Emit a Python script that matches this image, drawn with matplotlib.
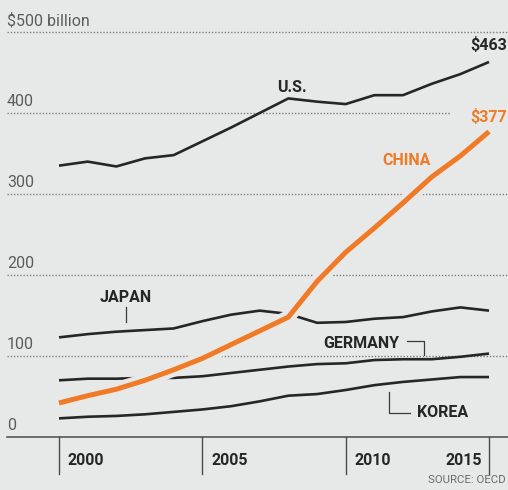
import matplotlib
matplotlib.use("Agg")
import matplotlib.pyplot as plt
import matplotlib.patheffects as pe

# R&D spending, billions of dollars
years = list(range(2000, 2016))
us = [335, 340, 334, 344, 348, 365, 382, 400, 418, 414, 411, 422, 422, 436, 448, 463]
china = [42, 51, 59, 70, 83, 97, 114, 131, 148, 192, 228, 258, 289, 321, 347, 377]
japan = [123, 127, 130, 132, 134, 143, 151, 156, 152, 141, 142, 146, 148, 155, 160, 156]
germany = [70, 72, 72, 73, 73, 75, 79, 83, 87, 90, 91, 95, 96, 96, 99, 103]
korea = [23, 25, 26, 28, 31, 34, 38, 44, 51, 53, 58, 64, 68, 71, 74, 74]

y_ticks = [0, 100, 200, 300, 400, 500]
y_tick_labels = ["0", "100", "200", "300", "400", "$500 billion"]
x_ticks = [2000, 2005, 2010, 2015]
x_tick_labels = ["2000", "2005", "2010", "2015"]

BG = "#e7e9e8"
INK = "#262626"
GRID = "#7d7f7e"
ORANGE = "#f07a26"
FONT = "Roboto"

W, H = 508, 490
fig = plt.figure(figsize=(W / 100, H / 100), dpi=100, facecolor=BG)
ax = fig.add_axes([0, 0, 1, 1], facecolor=BG)
ax.set_axis_off()

# pixel-aligned data frame
px_per_year = 28.667
px_per_unit = 0.81
x0 = 2000 - 59 / px_per_year
ax.set_xlim(x0, x0 + W / px_per_year)
y_bottom = -(H - 437) / px_per_unit
ax.set_ylim(y_bottom, y_bottom + H / px_per_unit)

left_edge = x0 + 7 / px_per_year
right_edge = x0 + W / px_per_year
grid_stop_400 = x0 + 451 / px_per_year

# dotted gridlines
for v in y_ticks[1:]:
    xe = grid_stop_400 if v == 400 else right_edge
    ax.plot([left_edge, xe], [v, v], color=GRID, lw=1.0,
            ls=(0, (1.0, 1.3)), zorder=1, solid_capstyle="butt")

# baseline axis
ax.plot([left_edge, right_edge], [0, 0], color="#4a4a4a", lw=1.1, zorder=2)

# y labels
for v, lab in zip(y_ticks, y_tick_labels):
    ax.text(left_edge, v + 8.6, lab, fontsize=11.5, color="#5c5c5c",
            family=FONT, ha="left", va="baseline", zorder=3)

# x ticks and labels
tick_len = 46
for t, lab in zip(x_ticks, x_tick_labels):
    ax.plot([t, t], [0, -tick_len], color="#4a4a4a", lw=1.0, zorder=2)
    if t == x_ticks[-1]:
        ax.text(t - 0.25, -34.6, lab, fontsize=11.5, fontweight="bold",
                color=INK, family=FONT, ha="right", va="baseline")
    else:
        ax.text(t + 0.31, -34.6, lab, fontsize=11.5, fontweight="bold",
                color=INK, family=FONT, ha="left", va="baseline")

# series
line_kw = dict(color=INK, lw=1.9, solid_joinstyle="round",
               solid_capstyle="butt", zorder=4)
ax.plot(years, korea, **line_kw)
ax.plot(years, germany, **line_kw)
ax.plot(years, japan, **line_kw)
ax.plot(years, us, **line_kw)
ax.plot(years, china, color=ORANGE, lw=3.6, solid_joinstyle="round",
        solid_capstyle="butt", zorder=6,
        path_effects=[pe.Stroke(linewidth=10, foreground=BG), pe.Normal()])

# series labels
lab_kw = dict(fontsize=11.5, fontweight="bold", family=FONT,
              va="baseline", zorder=7)
ax.text(2007.60, 426, "U.S.", color=INK, ha="left", **lab_kw)
ax.text(right_edge - 0.04, us[-1] + 15, f"${us[-1]}", color=INK,
        ha="right", **lab_kw)
ax.text(right_edge - 0.04, china[-1] + 12, f"${china[-1]}", color=ORANGE,
        ha="right", **lab_kw)
ax.text(2011.27, 336, "CHINA", color=ORANGE, ha="left", **lab_kw)
ax.text(2002.34, 166.7, "JAPAN", color=INK, ha="center", **lab_kw)
ax.text(2009.21, 110, "GERMANY", color=INK, ha="left", **lab_kw)
ax.text(2012.49, 24.7, "KOREA", color=INK, ha="left", **lab_kw)

# leader lines
lead_kw = dict(color="#3a3a3a", lw=0.9, zorder=5)
ax.plot([2002.34, 2002.34], [160.5, 142], **lead_kw)
ax.plot([2012.14, 2012.73, 2012.73], [118.5, 118.5, 101], **lead_kw)
ax.plot([2011.51, 2011.51, 2012.24], [55.6, 29.6, 29.6], **lead_kw)

# source
ax.text(right_edge - 0.1, -57, "SOURCE: OECD", fontsize=8.2, color="#6a6a6a",
        family=FONT, ha="right", va="baseline")

fig.savefig("out.png", dpi=100, facecolor=BG)
